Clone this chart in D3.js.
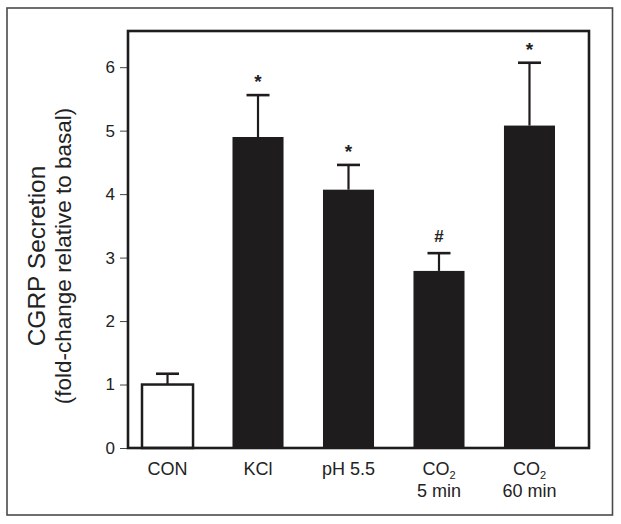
<!DOCTYPE html>
<html>
<head>
<meta charset="utf-8">
<script src="https://cdn.jsdelivr.net/npm/d3@7"></script>
<style>
  html, body { margin: 0; padding: 0; background: #fff; }
  svg { display: block; font-family: "Liberation Sans", Arial, Helvetica, sans-serif; }
</style>
</head>
<body>
<svg id="chart" width="621" height="524"></svg>
<script>
// ---- data ----
const categories = ["CON", "KCl", "pH 5.5", "CO2 5 min", "CO2 60 min"];
const labelLine1 = ["CON", "KCl", "pH 5.5", "CO", "CO"];
const labelSub = ["", "", "", "2", "2"];
const labelLine2 = ["", "", "", "5 min", "60 min"];
const means = [1.0, 4.9, 4.07, 2.79, 5.08];
const errors = [0.17, 0.66, 0.39, 0.28, 0.99];
const significance = ["", "*", "*", "#", "*"];
const fills = ["#ffffff", "#1f1c1d", "#1f1c1d", "#1f1c1d", "#1f1c1d"];
const yTicks = [0, 1, 2, 3, 4, 5, 6];

// ---- layout ----
const svg = d3.select("#chart");
const frame = { left: 128, right: 589, top: 31, bottom: 448 };

const x = d3.scaleBand().domain(categories).range([142, 555]).paddingInner(0.436).paddingOuter(0);
const y = d3.scaleLinear().domain([0, 6.57]).range([frame.bottom, frame.top]);

// outer border
svg.append("rect")
  .attr("x", 7).attr("y", 8).attr("width", 605.5).attr("height", 507)
  .attr("fill", "none").attr("stroke", "#4a4a4a").attr("stroke-width", 1.6);

// y axis ticks and labels
const yAxis = d3.axisLeft(y).tickValues(yTicks).tickSize(8).tickPadding(5).tickFormat(d3.format("d"));
const gy = svg.append("g").attr("transform", `translate(${frame.left},0)`).call(yAxis)
  .attr("font-size", 17).attr("font-family", "'Liberation Sans', Arial, sans-serif");
gy.select(".domain").remove();
gy.selectAll(".tick line").attr("stroke", "#444").attr("stroke-width", 1);
gy.selectAll(".tick text").attr("fill", "#222");

// bars
svg.append("g").selectAll("rect").data(categories).join("rect")
  .attr("x", d => x(d))
  .attr("width", x.bandwidth())
  .attr("y", (d, i) => y(means[i]))
  .attr("height", (d, i) => y(0) - y(means[i]))
  .attr("fill", (d, i) => fills[i])
  .attr("stroke", "#1f1c1d")
  .attr("stroke-width", (d, i) => i === 0 ? 2.5 : 0);

// error bars
const eb = svg.append("g").attr("stroke", "#1f1c1d");
eb.selectAll("line.stem").data(categories).join("line").attr("class", "stem")
  .attr("x1", d => x(d) + x.bandwidth() / 2).attr("x2", d => x(d) + x.bandwidth() / 2)
  .attr("y1", (d, i) => y(means[i])).attr("y2", (d, i) => y(means[i] + errors[i]))
  .attr("stroke-width", 2.2);
eb.selectAll("line.cap").data(categories).join("line").attr("class", "cap")
  .attr("x1", d => x(d) + x.bandwidth() / 2 - 11.5).attr("x2", d => x(d) + x.bandwidth() / 2 + 11.5)
  .attr("y1", (d, i) => y(means[i] + errors[i])).attr("y2", (d, i) => y(means[i] + errors[i]))
  .attr("stroke-width", 2.6);

// significance markers
svg.append("g").selectAll("text").data(categories).join("text")
  .attr("x", d => x(d) + x.bandwidth() / 2)
  .attr("y", (d, i) => y(means[i] + errors[i]) - (significance[i] === "#" ? 11 : 7))
  .attr("text-anchor", "middle")
  .attr("font-size", (d, i) => significance[i] === "#" ? 17 : 19)
  .attr("font-weight", "bold")
  .attr("fill", "#222")
  .text((d, i) => significance[i]);

// frame
svg.append("rect")
  .attr("x", frame.left).attr("y", frame.top)
  .attr("width", frame.right - frame.left).attr("height", frame.bottom - frame.top)
  .attr("fill", "none").attr("stroke", "#1f1c1d").attr("stroke-width", 2.6);

// category labels
const lab = svg.append("g").attr("font-size", 18).attr("fill", "#222").attr("text-anchor", "middle");
categories.forEach((c, i) => {
  const cx = x(c) + x.bandwidth() / 2;
  const t = lab.append("text").attr("x", cx).attr("y", 475);
  t.append("tspan").text(labelLine1[i]);
  if (labelSub[i]) {
    t.append("tspan").attr("font-size", 11).attr("dy", 4).text(labelSub[i]);
  }
  if (labelLine2[i]) {
    lab.append("text").attr("x", cx).attr("y", 497).text(labelLine2[i]);
  }
});

// y axis title
const cyTitle = 256;
svg.append("text")
  .attr("transform", `translate(45,${cyTitle}) rotate(-90)`)
  .attr("text-anchor", "middle").attr("font-size", 24.5).attr("fill", "#222")
  .text("CGRP Secretion");
svg.append("text")
  .attr("transform", `translate(71,${cyTitle}) rotate(-90)`)
  .attr("text-anchor", "middle").attr("font-size", 22.5).attr("fill", "#222")
  .text("(fold-change relative to basal)");
</script>
</body>
</html>
